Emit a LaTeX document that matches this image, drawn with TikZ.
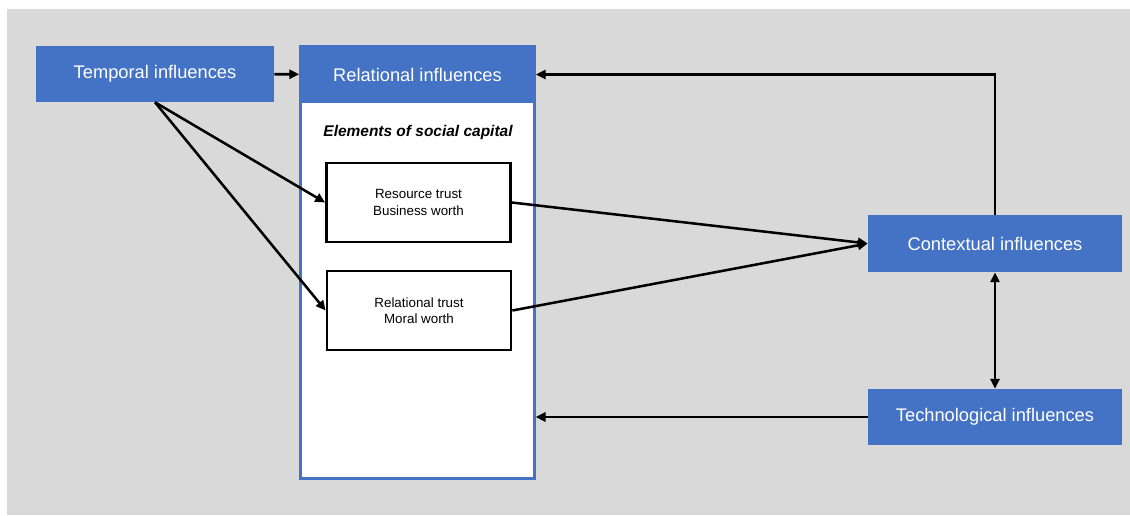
\documentclass[tikz,border=0pt]{standalone}
\usepackage{fontspec}
\setmainfont{Liberation Sans}
\usetikzlibrary{positioning, arrows.meta}
\definecolor{inflBlue}{RGB}{68, 114, 196}
\definecolor{bgGray}{RGB}{217, 217, 217}

\begin{document}
\begin{tikzpicture}[
  x=0.025cm, y=-0.025cm,
  infl/.style={fill=inflBlue, text=white, inner sep=0pt,
               minimum height=1.4cm, font=\fontsize{13}{15}\selectfont},
  trustbox/.style={draw, line width=1.9pt, fill=white, minimum width=4.6cm,
                   minimum height=1.98cm, align=center,
                   font=\fontsize{9.5}{11.5}\selectfont},
  link/.style={->, line width=1.8pt},
  >={Triangle[length=7pt, width=6.5pt]}
]
  \useasboundingbox (0, 0) rectangle (1130, 515);
  \fill[bgGray] (7, 9) rectangle (1130, 515);

  % ── social capital container ──
  \node[draw=inflBlue, line width=1.6pt, fill=white, minimum width=5.85cm,
        minimum height=10.8cm, inner sep=0pt] (capital) at (417.5, 262.5) {};
  \node[infl, minimum width=5.9cm, minimum height=1.43cm] (relational) at (417.5, 74.5)
    {Relational influences};
  \node[font=\fontsize{11}{13}\selectfont\bfseries\itshape] (elements) at (418, 132)
    {Elements of social capital};
  \node[trustbox] (resource) at (418.5, 202.5) {Resource trust\\Business worth};
  \node[trustbox] (reltrust) at (419, 310.5) {Relational trust\\Moral worth};

  % ── outer influences ──
  \node[infl, minimum width=5.95cm] (temporal) at (155, 74) {Temporal influences};
  \node[infl, minimum width=6.35cm, minimum height=1.43cm] (contextual) at (995, 243.5)
    {Contextual influences};
  \node[infl, minimum width=6.35cm] (technological) at (995, 417)
    {Technological influences};

  % ── connectors ──
  \draw[link] (temporal) -- (relational);
  \draw[link] (temporal.south) -- (resource.west);
  \draw[link] (temporal.south) -- (reltrust.west);
  \draw[link] (resource.east) -- (contextual.west);
  \draw[link] (reltrust.east) -- (contextual.west);
  \draw[link] (contextual.north) |- (relational.east);
  \draw[link, <->] (contextual.south) -- (technological.north);
  \draw[link] (technological.west) -- (technological.west -| capital.east);
\end{tikzpicture}
\end{document}
